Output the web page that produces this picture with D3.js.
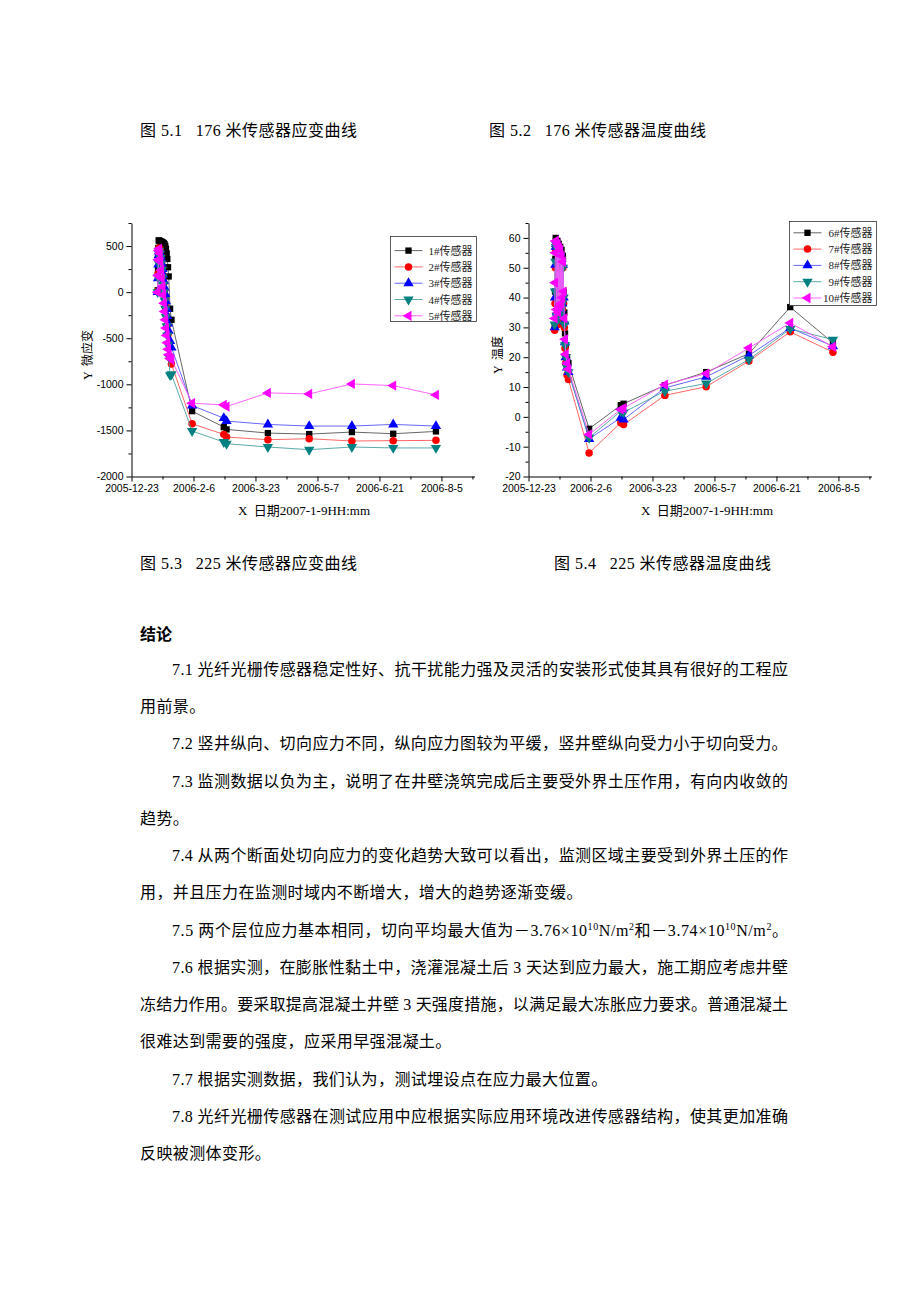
<!DOCTYPE html>
<html>
<head>
<meta charset="utf-8">
<script src="https://cdn.jsdelivr.net/npm/d3@7"></script>
<style>
  body { margin: 0; background: #fff; }
  text { font-family: "Liberation Serif", "Noto Sans CJK SC", serif; fill: #000; }
</style>
</head>
<body>
<svg id="page" width="920" height="1302"></svg>
<script>
// measurement times (shared by all sensors)
const dates = [
  "2006-01-11 00:00", "2006-01-11 06:00", "2006-01-11 12:00", "2006-01-11 18:00",
  "2006-01-12 00:00", "2006-01-12 12:00", "2006-01-13 00:00", "2006-01-13 12:00",
  "2006-01-14 00:00", "2006-01-14 12:00", "2006-01-15 00:00", "2006-01-15 12:00",
  "2006-01-16 00:00", "2006-01-16 12:00", "2006-01-17 00:00", "2006-01-17 12:00",
  "2006-01-18 00:00", "2006-01-18 12:00", "2006-01-19 00:00", "2006-01-20 00:00",
  "2006-01-21 00:00",
  "2006-02-05 00:00", "2006-02-28 00:00", "2006-03-02 00:00", "2006-04-01 00:00",
  "2006-05-01 00:00", "2006-06-01 00:00", "2006-07-01 00:00", "2006-08-01 00:00"
];

// strain, 1#..5#
const strain1 = [20, 250, 480, 560, 560, 555, 550, 548, 545, 540, 535, 530, 520, 500, 470, 420, 360, 270, 170, -180, -300,
  -1291, -1464, -1489, -1529, -1540, -1518, -1536, -1511];
const strain2 = [10, 200, 380, 460, 480, 470, 440, 390, 330, 260, 180, 100, 20, -70, -160, -260, -360, -460, -560, -700, -780,
  -1428, -1543, -1572, -1601, -1590, -1615, -1611, -1608];
const strain3 = [0, 150, 300, 400, 440, 430, 400, 360, 310, 250, 190, 120, 50, -20, -100, -180, -260, -340, -420, -530, -600,
  -1230, -1367, -1399, -1435, -1453, -1453, -1435, -1453];
const strain4 = [0, 160, 320, 420, 450, 420, 370, 310, 240, 160, 80, 0, -90, -180, -270, -370, -470, -570, -700, -900, -890,
  -1507, -1626, -1644, -1680, -1709, -1680, -1690, -1690];
const strain5 = [0, 180, 350, 450, 470, 420, 330, 240, 150, 60, -30, -120, -210, -300, -390, -470, -550, -620, -680, -720, -730,
  -1205, -1223, -1241, -1093, -1104, -996, -1014, -1115];

// temperature, 6#..10#
const temp6 = [30, 42, 53, 60, 59, 40, 59, 38, 58, 36, 57, 38, 56, 40, 54, 42, 35, 28, 24, 20, 18,
  -4, 3.9, 4.4, 10.6, 15.0, 21.2, 36.8, 24.8];
const temp7 = [29, 38, 50, 56, 57, 33, 56, 31, 55, 32, 53, 34, 52, 36, 50, 38, 30, 23, 18, 14, 12.5,
  -12.1, -2.0, -2.6, 7.2, 10.1, 18.7, 28.5, 21.7];
const temp8 = [30, 40, 51, 57, 58, 35, 57, 34, 56, 35, 55, 36, 53, 38, 51, 40, 32, 25, 20, 16.5, 15,
  -7.4, -0.3, -0.9, 9.7, 13.4, 20.6, 29.8, 23.7];
const temp9 = [31, 42, 52, 58, 57, 34, 56, 33, 55, 34, 54, 36, 52, 38, 50, 40, 31, 24, 20, 16.5, 15,
  -7.0, 1.9, 1.5, 8.6, 11.2, 19.2, 29.5, 25.9];
const temp10 = [33, 45, 55, 59, 59, 36, 58, 35, 57, 37, 56, 38, 54, 40, 52, 42, 33, 26, 21, 18, 16,
  -5.9, 2.5, 2.9, 10.8, 14.5, 23.1, 31.5, 23.5];

const strainNames = ["1#传感器", "2#传感器", "3#传感器", "4#传感器", "5#传感器"];
const tempNames = ["6#传感器", "7#传感器", "8#传感器", "9#传感器", "10#传感器"];

const xTickLabels = ["2005-12-23", "2006-2-6", "2006-3-23", "2006-5-7", "2006-6-21", "2006-8-5"];
const xStart = "2005-12-23", xEnd = "2006-8-29";
const strainTicks = [-2000, -1500, -1000, -500, 0, 500];
const tempTicks = [-20, -10, 0, 10, 20, 30, 40, 50, 60];

const captions = [
  "图 5.1   176 米传感器应变曲线", "图 5.2   176 米传感器温度曲线",
  "图 5.3   225 米传感器应变曲线", "图 5.4   225 米传感器温度曲线"
];

const paragraphs = [
  { t: "7.1 光纤光栅传感器稳定性好、抗干扰能力强及灵活的安装形式使其具有很好的工程应", indent: true, full: true },
  { t: "用前景。" },
  { t: "7.2 竖井纵向、切向应力不同，纵向应力图较为平缓，竖井壁纵向受力小于切向受力。", indent: true },
  { t: "7.3 监测数据以负为主，说明了在井壁浇筑完成后主要受外界土压作用，有向内收敛的", indent: true, full: true },
  { t: "趋势。" },
  { t: "7.4 从两个断面处切向应力的变化趋势大致可以看出，监测区域主要受到外界土压的作", indent: true, full: true },
  { t: "用，并且压力在监测时域内不断增大，增大的趋势逐渐变缓。" },
  { t: "7.5", indent: true, full: true, sup: true },
  { t: "7.6 根据实测，在膨胀性黏土中，浇灌混凝土后 3 天达到应力最大，施工期应考虑井壁", indent: true, full: true },
  { t: "冻结力作用。要采取提高混凝土井壁 3 天强度措施，以满足最大冻胀应力要求。普通混凝土", full: true },
  { t: "很难达到需要的强度，应采用早强混凝土。" },
  { t: "7.7 根据实测数据，我们认为，测试埋设点在应力最大位置。", indent: true },
  { t: "7.8 光纤光栅传感器在测试应用中应根据实际应用环境改进传感器结构，使其更加准确", indent: true, full: true },
  { t: "反映被测体变形。" }
];

const markColors = ["#000000", "#ff0000", "#0000ff", "#008080", "#ff00ff"];
const lineColors = ["#555555", "#ff5555", "#5555ff", "#4a9f9f", "#ff55ff"];
const symbolTypes = [d3.symbolSquare, d3.symbolCircle, d3.symbolTriangle, d3.symbolTriangle, d3.symbolTriangle];
const symbolSizes = [40, 44, 46, 46, 46];
const symbolRot = [0, 0, 0, 180, -90];

const parse = d3.timeParse("%Y-%m-%d %H:%M");
const parseDay = d3.timeParse("%Y-%m-%d");

const svg = d3.select("#page");

function drawChart(cfg) {
  const g = svg.append("g");
  const x = d3.scaleTime()
    .domain([parseDay(xStart), parseDay(xEnd)])
    .range([cfg.left, cfg.left + 343]);
  const y = d3.scaleLinear().domain(cfg.yDomain).range([cfg.bottom, cfg.top]);

  // series, first one at the bottom
  cfg.series.forEach((vals, i) => {
    const pts = dates.map((d, j) => [x(parse(d)), y(vals[j])]);
    g.append("path")
      .attr("d", d3.line()(pts))
      .attr("fill", "none")
      .attr("stroke", lineColors[i])
      .attr("stroke-width", 0.9);
    g.append("g").selectAll("path")
      .data(pts)
      .join("path")
      .attr("transform", p => `translate(${p[0]},${p[1]}) rotate(${symbolRot[i]})`)
      .attr("d", d3.symbol().type(symbolTypes[i]).size(symbolSizes[i]))
      .attr("fill", markColors[i]);
  });

  // x axis with minor ticks between majors
  const major = xTickLabels.map(s => parseDay(s));
  const minor = [];
  major.forEach((d, i) => {
    const next = major[i + 1] ? major[i + 1] : new Date(+d + (+d - +major[i - 1]));
    const mid = new Date((+d + +next) / 2);
    if (mid <= x.domain()[1]) minor.push(mid);
  });
  const xa = g.append("g")
    .attr("transform", `translate(0,${cfg.bottom})`)
    .call(d3.axisBottom(x).tickValues(major).tickFormat((d, i) => xTickLabels[i])
      .tickSize(5).tickSizeOuter(0).tickPadding(3));
  g.append("g")
    .attr("transform", `translate(0,${cfg.bottom})`)
    .call(d3.axisBottom(x).tickValues(minor).tickFormat("").tickSize(3).tickSizeOuter(0))
    .select(".domain").remove();

  // y axis
  const ya = g.append("g")
    .attr("transform", `translate(${cfg.left},0)`)
    .call(d3.axisLeft(y).tickValues(cfg.yTicks).tickFormat(d => String(d))
      .tickSize(5).tickSizeOuter(0).tickPadding(3));
  const step = cfg.yTicks[1] - cfg.yTicks[0];
  const yMinor = d3.range(cfg.yTicks[0] + step / 2, cfg.yDomain[1] + 0.001, step);
  g.append("g")
    .attr("transform", `translate(${cfg.left},0)`)
    .call(d3.axisLeft(y).tickValues(yMinor).tickFormat("").tickSize(3).tickSizeOuter(0))
    .select(".domain").remove();

  [xa, ya].forEach(a => {
    a.selectAll("text")
      .style("font-family", "'Liberation Sans', Arial, sans-serif")
      .style("font-size", "10.5px");
  });
  g.selectAll(".domain, .tick line").attr("stroke", "#000");

  // axis titles
  g.append("text")
    .attr("transform", `translate(${cfg.yTitleX},355) rotate(-90)`)
    .attr("text-anchor", "middle")
    .style("font-size", "12px")
    .style("white-space", "pre")
    .text(cfg.yTitle);
  g.append("text")
    .attr("x", cfg.xTitleX).attr("y", 515)
    .attr("text-anchor", "middle")
    .style("font-size", "13px")
    .style("white-space", "pre")
    .text("X  日期2007-1-9HH:mm");

  // legend
  const lg = g.append("g");
  lg.append("rect")
    .attr("x", cfg.legend.x).attr("y", cfg.legend.y)
    .attr("width", cfg.legend.w).attr("height", cfg.legend.h)
    .attr("fill", "#fff").attr("stroke", "#333").attr("stroke-width", 0.8);
  cfg.names.forEach((name, i) => {
    const ly = cfg.legend.first + i * 16.3;
    const lx = cfg.legend.x + 4;
    lg.append("line")
      .attr("x1", lx).attr("x2", lx + 28).attr("y1", ly).attr("y2", ly)
      .attr("stroke", lineColors[i]).attr("stroke-width", 0.9);
    lg.append("path")
      .attr("transform", `translate(${lx + 14},${ly}) rotate(${symbolRot[i]})`)
      .attr("d", d3.symbol().type(symbolTypes[i]).size(symbolSizes[i]))
      .attr("fill", markColors[i]);
    lg.append("text")
      .attr("x", cfg.legend.x + cfg.legend.w - 4).attr("y", ly + 4)
      .attr("text-anchor", "end")
      .style("font-size", "11px")
      .style("fill", "#222")
      .text(name);
  });
}

drawChart({
  left: 131.5, top: 223, bottom: 476.5,
  yDomain: [-2000, 750], yTicks: strainTicks,
  series: [strain1, strain2, strain3, strain4, strain5],
  names: strainNames,
  yTitle: "Y  微应变", yTitleX: 92, xTitleX: 304,
  legend: { x: 390.5, y: 236.5, w: 86, h: 85, first: 250.6 }
});

drawChart({
  left: 528.5, top: 223, bottom: 476.5,
  yDomain: [-20, 65], yTicks: tempTicks,
  series: [temp6, temp7, temp8, temp9, temp10],
  names: tempNames,
  yTitle: "Y  温度", yTitleX: 502, xTitleX: 707,
  legend: { x: 789.5, y: 221.5, w: 87, h: 84, first: 232.8 }
});

// captions
const capPos = [[140, 136], [489, 136], [140, 569], [554, 569]];
captions.forEach((c, i) => {
  svg.append("text")
    .attr("x", capPos[i][0]).attr("y", capPos[i][1])
    .attr("textLength", 217).attr("lengthAdjust", "spacing")
    .style("font-size", "16px")
    .style("white-space", "pre")
    .text(c);
});

// conclusion
svg.append("text")
  .attr("x", 140).attr("y", 640)
  .style("font-size", "16px")
  .style("font-weight", "bold")
  .style("font-family", "'Noto Sans CJK SC', sans-serif")
  .text("结论");

paragraphs.forEach((p, i) => {
  const x0 = p.indent ? 172 : 140;
  const t = svg.append("text")
    .attr("x", x0).attr("y", 675 + i * 37.23)
    .style("font-size", "16px")
    .style("white-space", "pre")
    .style("letter-spacing", p.full ? null : "0.4px");
  if (p.full) t.attr("textLength", 788 - x0).attr("lengthAdjust", "spacing");
  if (p.sup) {
    const parts = [
      ["7.5 两个层位应力基本相同，切向平均最大值为－3.76×10", false], ["10", true], ["N/m", false], ["2", true],
      ["和－3.74×10", false], ["10", true], ["N/m", false], ["2", true], ["。", false]
    ];
    let up = false;
    parts.forEach(([s, isSup]) => {
      const ts = t.append("tspan").text(s);
      if (isSup) { ts.attr("dy", -6).style("font-size", "10px"); up = true; }
      else if (up) { ts.attr("dy", 6); up = false; }
    });
  } else {
    t.text(p.t);
  }
});
</script>
</body>
</html>
